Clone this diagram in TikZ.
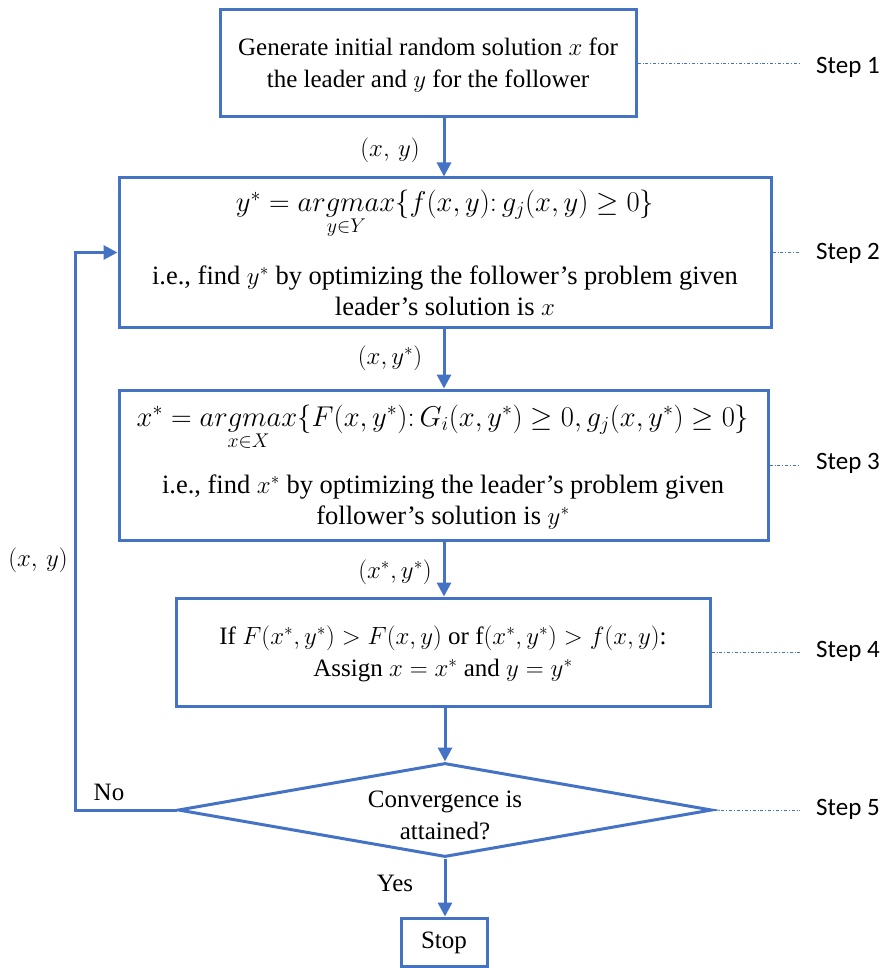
\documentclass[tikz,border=0pt]{standalone}
\usepackage{fontspec}
\setmainfont{Liberation Serif}
\newfontfamily\stepfont{Carlito}
\usetikzlibrary{arrows.meta,shapes.geometric}
\definecolor{bl}{HTML}{4472C4}
\begin{document}
\begin{tikzpicture}[x=1pt,y=-1pt,
  box/.style={draw=bl, line width=3pt, rectangle, inner sep=0pt},
  txt/.style={font=\fontsize{25}{32}\selectfont, align=center, inner sep=0pt},
  bigtxt/.style={font=\fontsize{26.5}{31}\selectfont, align=center, inner sep=0pt},
  formula/.style={font=\fontsize{25}{32}\selectfont, inner sep=0pt, scale=1.15, transform shape},
  arr/.style={draw=bl, line width=3pt, -{Triangle[length=14pt,width=14pt]}},
  guide/.style={draw=bl, line width=0.8pt, dash dot},
  steplbl/.style={font=\stepfont\fontsize{25}{30}\selectfont, anchor=west, inner sep=0pt}]
\useasboundingbox (0,0) rectangle (887,968);

% boxes
\node[box, minimum width=416, minimum height=107] (b1) at (428,63.5) {};
\node[box, minimum width=652, minimum height=149] (b2) at (445,252.5) {};
\node[box, minimum width=649, minimum height=150] (b3) at (443.5,465) {};
\node[box, minimum width=534, minimum height=108] (b4) at (443,652) {};
\node[draw=bl, line width=3pt, diamond, minimum width=534, minimum height=94, inner sep=0pt] (d) at (445,810) {};
\node[box, minimum width=86, minimum height=48] (s) at (444,942) {};

% texts
\node[txt] (t1) at (428,65) {Generate initial random solution $x$ for\\the leader and $y$ for the follower};
\node[formula] (f2) at (445,214) {$y^* = \mathop{argmax}\limits_{y\in Y}\{f(x,y)\colon g_j(x,y)\geq 0\}$};
\node[bigtxt] (t2) at (445,291) {i.e., find $y^*$ by optimizing the follower’s problem given\\leader’s solution is $x$};
\node[formula] (f3) at (443,427) {$x^* = \mathop{argmax}\limits_{x\in X}\{F(x,y^*)\colon G_i(x,y^*)\geq 0, g_j(x,y^*)\geq 0\}$};
\node[bigtxt] (t3) at (443,502) {i.e., find $x^*$ by optimizing the leader’s problem given\\follower’s solution is $y^*$};
\node[txt] (t4) at (443,654) {If $F(x^*,y^*) > F(x,y)$ or f$(x^*,y^*) > f(x,y)$:\\Assign $x = x^*$ and $y = y^*$};
\node[txt] (td) at (445,815) {Convergence is\\attained?};
\node[txt] (ts) at (444,943) {Stop};

% connector labels
\node[txt] (l1) at (390,150) {$(x,\,y)$};
\node[txt] (l2) at (390,358) {$(x, y^*)$};
\node[txt] (l3) at (395,572) {$(x^*, y^*)$};
\node[txt] (l4) at (38,560) {$(x,\,y)$};
\node[txt] (lno) at (109,792) {No};
\node[txt] (lyes) at (395,883) {Yes};

% arrows
\coordinate (ax) at (444,0);
\coordinate (lx) at (75,0);
\draw[arr] (b1.south -| ax) -- (b2.north -| ax);
\draw[arr] (b2.south -| ax) -- (b3.north -| ax);
\draw[arr] (b3.south -| ax) -- (b4.north -| ax);
\draw[arr] (b4.south -| d.north) -- (d.north);
\draw[arr] (d.south) -- (s.north -| d.south);
\draw[arr] (d.west) -- (d.west -| lx) -- (b2.west -| lx) -- (b2.west);

% step guides
\coordinate (gx) at (800,0);
\draw[guide] (b1.east) -- (b1.east -| gx);
\draw[guide] (b2.east) -- (b2.east -| gx);
\draw[guide] (b3.east) -- (b3.east -| gx);
\draw[guide] (b4.east) -- (b4.east -| gx);
\draw[guide] (d.east) -- (d.east -| gx);
\node[steplbl] (s1) at (816,67) {Step 1};
\node[steplbl] (s2) at (816,253) {Step 2};
\node[steplbl] (s3) at (816,463) {Step 3};
\node[steplbl] (s4) at (816,651) {Step 4};
\node[steplbl] (s5) at (816,809) {Step 5};
\end{tikzpicture}
\end{document}
